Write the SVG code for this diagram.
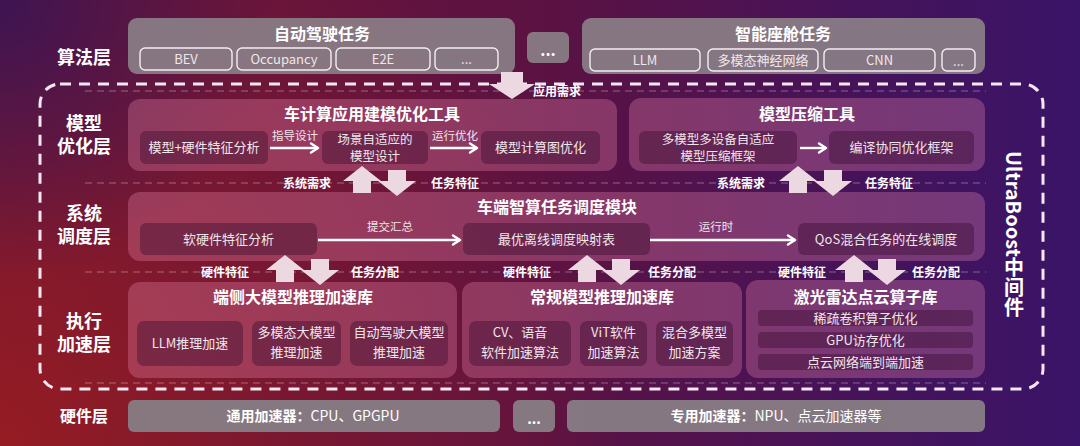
<svg xmlns="http://www.w3.org/2000/svg" width="1080" height="446" viewBox="0 0 1080 446">
<defs>
  <linearGradient id="bg" x1="0" y1="0" x2="1" y2="0">
    <stop offset="0" stop-color="#6e1538"/>
    <stop offset="0.5" stop-color="#5c1242"/>
    <stop offset="0.8" stop-color="#45135a"/>
    <stop offset="1" stop-color="#3a1468"/>
  </linearGradient>
  <radialGradient id="red" cx="0" cy="446" r="620" gradientUnits="userSpaceOnUse">
    <stop offset="0" stop-color="#961c22" stop-opacity="1"/>
    <stop offset="0.5" stop-color="#851a2a" stop-opacity="0.6"/>
    <stop offset="1" stop-color="#851a2a" stop-opacity="0"/>
  </radialGradient>
  <radialGradient id="pur" cx="0" cy="0" r="280" gradientUnits="userSpaceOnUse">
    <stop offset="0" stop-color="#3a1454" stop-opacity="0.95"/>
    <stop offset="1" stop-color="#3a1454" stop-opacity="0"/>
  </radialGradient>
  <marker id="ah" viewBox="0 0 12 12" refX="10" refY="6" markerWidth="12" markerHeight="12" orient="auto" markerUnits="userSpaceOnUse">
    <path d="M3,1.5 L10,6 L3,10.5" fill="none" stroke="#ffffff" stroke-width="2.4" stroke-linecap="round" stroke-linejoin="round"/>
  </marker>
  <style>
    text { font-family: "Noto Sans CJK SC", "Noto Sans", sans-serif; fill: #ffffff; text-anchor: middle; }
    .lay { font-size: 18px; font-weight: bold; }
    .ttl { font-size: 16px; font-weight: bold; }
    .in { font-size: 13px; fill: #f1e6ec; }
    .in2 { font-size: 12.5px; fill: #f1e6ec; }
    .sm { font-size: 11.5px; fill: #f1e6ec; }
    .lbl { font-size: 12px; font-weight: bold; }
    .task { fill: #8a7f87; fill-opacity: 0.92; }
    .sub { fill: none; stroke: #f4eef2; stroke-width: 1.4; }
    .big { fill: #ee8cb0; fill-opacity: 0.31; }
    .inner { fill: #32082a; fill-opacity: 0.38; }
    .hw { fill: #877d85; fill-opacity: 0.95; }
    .sep { stroke: #ffffff; stroke-opacity: 0.35; stroke-width: 1.2; stroke-dasharray: 7 5; fill: none; }
    .outer { fill: none; stroke: #f5e8f2; stroke-width: 3; stroke-dasharray: 11 8; }
    .thin { stroke: #ffffff; stroke-width: 2.4; fill: none; }
    .blk { fill: #ecd8e0; }
  </style>
</defs>

<rect width="1080" height="446" fill="url(#bg)"/>
<rect width="1080" height="446" fill="url(#red)"/>
<rect width="1080" height="446" fill="url(#pur)"/>

<!-- layer labels -->
<g id="layer-labels">
  <text class="lay" x="84" y="64">算法层</text>
  <text class="lay" x="84" y="130">模型</text>
  <text class="lay" x="84" y="153">优化层</text>
  <text class="lay" x="84" y="220">系统</text>
  <text class="lay" x="84" y="243">调度层</text>
  <text class="lay" x="84" y="328">执行</text>
  <text class="lay" x="84" y="351">加速层</text>
  <text class="lay" x="84" y="422" style="font-size:16px">硬件层</text>
</g>

<!-- separators and outer frame -->
<g id="frame">
  <rect class="outer" x="40" y="84" width="1003" height="305" rx="20"/>
  <line class="sep" x1="85" y1="91" x2="986" y2="91"/>
  <line class="sep" x1="85" y1="183" x2="986" y2="183"/>
  <line class="sep" x1="85" y1="272" x2="986" y2="272"/>
  <line class="sep" x1="85" y1="383" x2="986" y2="383"/>
</g>

<!-- algorithm layer -->
<g id="ad-tasks">
  <rect class="task" x="128" y="18" width="387" height="56" rx="9"/>
  <text class="ttl" x="322" y="40">自动驾驶任务</text>
  <rect class="sub" x="140" y="48" width="92" height="22" rx="5"/>
  <text class="in" x="186" y="64">BEV</text>
  <rect class="sub" x="237" y="48" width="94" height="22" rx="5"/>
  <text class="in" x="284" y="64">Occupancy</text>
  <rect class="sub" x="336" y="48" width="94" height="22" rx="5"/>
  <text class="in" x="383" y="64">E2E</text>
  <rect class="sub" x="435" y="48" width="63" height="22" rx="5"/>
  <text class="in" x="466.5" y="64">...</text>
</g>
<g id="mid-dots">
  <rect class="task" x="527" y="32" width="42" height="31" rx="6"/>
  <text x="548" y="56" style="font-size:16px;font-weight:bold">...</text>
</g>
<g id="cabin-tasks">
  <rect class="task" x="582" y="18" width="403" height="56" rx="9"/>
  <text class="ttl" x="783" y="40">智能座舱任务</text>
  <rect class="sub" x="590" y="49" width="110" height="22" rx="5"/>
  <text class="in" x="645" y="65">LLM</text>
  <rect class="sub" x="708" y="49" width="110" height="22" rx="5"/>
  <text class="in" x="763" y="65">多模态神经网络</text>
  <rect class="sub" x="824" y="49" width="111" height="22" rx="5"/>
  <text class="in" x="879.5" y="65">CNN</text>
  <rect class="sub" x="942" y="49" width="33" height="22" rx="5"/>
  <text class="in" x="958.5" y="66">...</text>
</g>

<!-- model optimization layer -->
<g id="vehicle-modeling-tool">
  <rect class="big" x="128" y="99" width="489" height="72" rx="12"/>
  <text class="ttl" x="372" y="120">车计算应用建模优化工具</text>
  <rect class="inner" x="140" y="131" width="128" height="33" rx="6"/>
  <text class="in" x="204" y="152">模型+硬件特征分析</text>
  <rect class="inner" x="322" y="131" width="106" height="33" rx="6"/>
  <text class="in2" x="375" y="144">场景自适应的</text>
  <text class="in2" x="375" y="160.5">模型设计</text>
  <rect class="inner" x="481" y="131" width="119" height="33" rx="6"/>
  <text class="in" x="540.5" y="152">模型计算图优化</text>
</g>
<g id="compression-tool">
  <rect class="big" x="629" y="98" width="356" height="73" rx="12"/>
  <text class="ttl" x="807" y="120">模型压缩工具</text>
  <rect class="inner" x="639" y="131" width="158" height="33" rx="6"/>
  <text class="in2" x="718" y="144">多模型多设备自适应</text>
  <text class="in2" x="718" y="160.5">模型压缩框架</text>
  <rect class="inner" x="829" y="131" width="145" height="33" rx="6"/>
  <text class="in" x="901.5" y="152">编译协同优化框架</text>
</g>

<!-- scheduling layer -->
<g id="scheduler">
  <rect class="big" x="128" y="192" width="857" height="69" rx="12"/>
  <text class="ttl" x="557" y="213">车端智算任务调度模块</text>
  <rect class="inner" x="140" y="223" width="177" height="32" rx="6"/>
  <text class="in" x="228.5" y="244">软硬件特征分析</text>
  <rect class="inner" x="463" y="223" width="187" height="32" rx="6"/>
  <text class="in" x="556.5" y="244">最优离线调度映射表</text>
  <rect class="inner" x="798" y="223" width="176" height="32" rx="6"/>
  <text class="in" x="886" y="244">QoS混合任务的在线调度</text>
</g>

<!-- execution layer -->
<g id="edge-llm-lib">
  <rect class="big" x="128" y="282" width="329" height="96" rx="12"/>
  <text class="ttl" x="293" y="303">端侧大模型推理加速库</text>
  <rect class="inner" x="137" y="321" width="106" height="45" rx="7"/>
  <text class="in" x="190" y="348">LLM推理加速</text>
  <rect class="inner" x="252" y="321" width="89" height="45" rx="7"/>
  <text class="in" x="296.5" y="337">多模态大模型</text>
  <text class="in" x="296.5" y="357">推理加速</text>
  <rect class="inner" x="350" y="321" width="98" height="45" rx="7"/>
  <text class="in" x="399" y="337">自动驾驶大模型</text>
  <text class="in" x="399" y="357">推理加速</text>
</g>
<g id="general-lib">
  <rect class="big" x="462" y="282" width="280" height="96" rx="12"/>
  <text class="ttl" x="602" y="303">常规模型推理加速库</text>
  <rect class="inner" x="469" y="321" width="102" height="45" rx="7"/>
  <text class="in" x="520" y="337">CV、语音</text>
  <text class="in" x="520" y="357">软件加速算法</text>
  <rect class="inner" x="580" y="321" width="67" height="45" rx="7"/>
  <text class="in" x="613.5" y="337">ViT软件</text>
  <text class="in" x="613.5" y="357">加速算法</text>
  <rect class="inner" x="656" y="321" width="77" height="45" rx="7"/>
  <text class="in" x="694.5" y="337">混合多模型</text>
  <text class="in" x="694.5" y="357">加速方案</text>
</g>
<g id="lidar-lib">
  <rect class="big" x="746" y="280" width="239" height="98" rx="12"/>
  <text class="ttl" x="865.5" y="303">激光雷达点云算子库</text>
  <rect class="inner" x="758" y="310" width="215" height="16" rx="4"/>
  <text class="in" x="865.5" y="322.5">稀疏卷积算子优化</text>
  <rect class="inner" x="758" y="332" width="215" height="16" rx="4"/>
  <text class="in" x="865.5" y="344.5">GPU访存优化</text>
  <rect class="inner" x="758" y="354" width="215" height="16" rx="4"/>
  <text class="in" x="865.5" y="366.5">点云网络端到端加速</text>
</g>

<!-- hardware layer -->
<g id="hw-general">
  <rect class="hw" x="128" y="400" width="372" height="32" rx="6"/>
  <text x="313" y="421" style="font-size:14px"><tspan font-weight="bold">通用加速器：</tspan>CPU、GPGPU</text>
</g>
<g id="hw-dots">
  <rect class="hw" x="513" y="400" width="42" height="32" rx="6"/>
  <text x="534" y="424" style="font-size:14px;font-weight:bold">...</text>
</g>
<g id="hw-special">
  <rect class="hw" x="567" y="400" width="418" height="32" rx="6"/>
  <text x="776" y="421" style="font-size:14px"><tspan font-weight="bold">专用加速器：</tspan>NPU、点云加速器等</text>
</g>

<!-- middleware label -->
<g id="ultraboost">
  <text x="1014" y="151" style="font-size:20px;font-weight:bold;writing-mode:vertical-rl;text-anchor:start">UltraBoost中间件</text>
</g>

<!-- connectors -->
<g id="connectors">
  <line class="thin" x1="270" y1="148" x2="318" y2="148" marker-end="url(#ah)"/>
  <text class="sm" x="295" y="140">指导设计</text>
  <line class="thin" x1="430" y1="148" x2="477" y2="148" marker-end="url(#ah)"/>
  <text class="sm" x="455" y="140">运行优化</text>
  <line class="thin" x1="800" y1="148" x2="826" y2="148" marker-end="url(#ah)"/>
  <line class="thin" x1="318" y1="240" x2="460" y2="240" marker-end="url(#ah)"/>
  <text class="sm" x="390" y="231">提交汇总</text>
  <line class="thin" x1="650" y1="240" x2="795" y2="240" marker-end="url(#ah)"/>
  <text class="sm" x="716" y="231">运行时</text>

  <path class="blk" d="M501,72 L523,72 L523,84 L535,84 L512,99 L489,84 L501,84 Z"/>
  <text class="lbl" x="557" y="96">应用需求</text>

  <path class="blk" d="M362,166 L381,181 L371,181 L371,193 L353,193 L353,181 L343,181 Z"/>
  <path class="blk" d="M388,170 L406,170 L406,181 L416,181 L397,196 L378,181 L388,181 Z"/>
  <text class="lbl" x="307" y="188">系统需求</text>
  <text class="lbl" x="455" y="188">任务特征</text>

  <path class="blk" d="M798,166 L817,181 L807,181 L807,193 L789,193 L789,181 L779,181 Z"/>
  <path class="blk" d="M824,170 L842,170 L842,181 L852,181 L833,196 L814,181 L824,181 Z"/>
  <text class="lbl" x="741" y="188">系统需求</text>
  <text class="lbl" x="889" y="188">任务特征</text>

  <path class="blk" d="M285,255 L304,270 L294,270 L294,282 L276,282 L276,270 L266,270 Z"/>
  <path class="blk" d="M311,259 L329,259 L329,270 L339,270 L320,285 L301,270 L311,270 Z"/>
  <text class="lbl" x="225" y="277">硬件特征</text>
  <text class="lbl" x="375" y="277">任务分配</text>

  <path class="blk" d="M587,255 L606,270 L596,270 L596,282 L578,282 L578,270 L568,270 Z"/>
  <path class="blk" d="M612,259 L630,259 L630,270 L640,270 L621,285 L602,270 L612,270 Z"/>
  <text class="lbl" x="527" y="277">硬件特征</text>
  <text class="lbl" x="672" y="277">任务分配</text>

  <path class="blk" d="M854,255 L873,270 L863,270 L863,282 L845,282 L845,270 L835,270 Z"/>
  <path class="blk" d="M878,259 L896,259 L896,270 L906,270 L887,285 L868,270 L878,270 Z"/>
  <text class="lbl" x="802" y="277">硬件特征</text>
  <text class="lbl" x="936" y="277">任务分配</text>
</g>
</svg>
